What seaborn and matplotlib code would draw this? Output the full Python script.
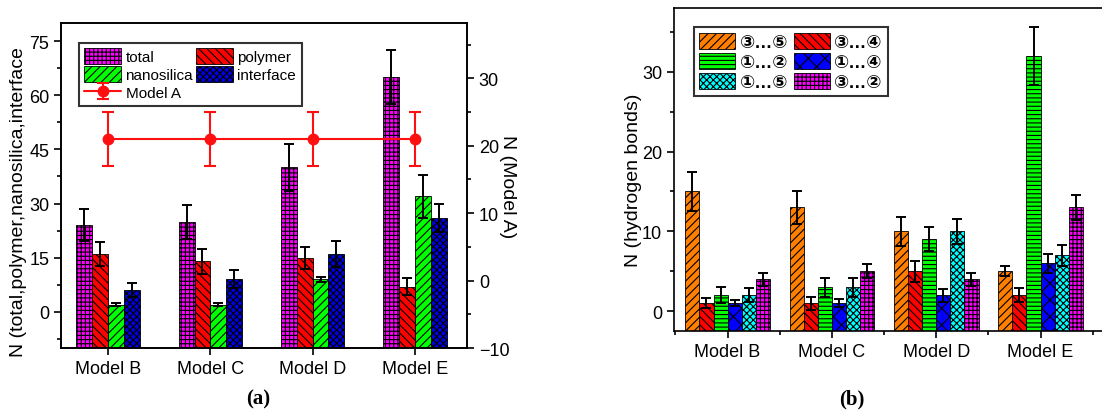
import numpy as np
import pandas as pd
import seaborn as sns
import matplotlib.pyplot as plt
from matplotlib.ticker import MultipleLocator

models = ['Model B', 'Model C', 'Model D', 'Model E']

# (a) number of atoms / groups per region
parts = ['total', 'polymer', 'nanosilica', 'interface']
total = [24, 25, 40, 65]
total_err = [4.5, 4.7, 6.5, 7.5]
polymer = [16, 14, 15, 7]
polymer_err = [3.3, 3.5, 3.0, 2.3]
nanosilica = [2, 2, 9, 32]
nanosilica_err = [0.5, 0.5, 0.7, 6.0]
interface = [6, 9, 16, 26]
interface_err = [2.0, 2.5, 3.5, 4.0]
model_a = [21, 21, 21, 21]
model_a_err = [4, 4, 4, 4]

# (b) hydrogen bonds
bonds = ['③…⑤', '③…④', '①…②', '①…④', '①…⑤', '③…②']
b35 = [15, 13, 10, 5]
b35_err = [2.4, 2.1, 1.8, 0.6]
b34 = [1, 1, 5, 2]
b34_err = [0.6, 0.8, 1.3, 0.9]
b12 = [2, 3, 9, 32]
b12_err = [1.0, 1.2, 1.5, 3.6]
b14 = [1, 1, 2, 6]
b14_err = [0.4, 0.5, 0.8, 1.2]
b15 = [2, 3, 10, 7]
b15_err = [0.9, 1.2, 1.6, 1.3]
b32 = [4, 5, 4, 13]
b32_err = [0.8, 0.9, 0.8, 1.6]

sns.set_style('ticks')
plt.rcParams['font.family'] = ['Liberation Sans', 'DejaVu Sans', 'Noto Sans CJK SC']
plt.rcParams['hatch.linewidth'] = 0.8
plt.rcParams['axes.linewidth'] = 1.2
plt.rcParams['axes.edgecolor'] = 'black'
for key in ['text.color', 'axes.labelcolor', 'xtick.color', 'ytick.color']:
    plt.rcParams[key] = 'black'


def long_form(names, series):
    rows = []
    for name, vals in zip(names, series):
        for m, v in zip(models, vals):
            rows.append({'model': m, 'group': name, 'n': v})
    return pd.DataFrame(rows)


def draw_bars(ax, df, names, colors, hatches, errs, width, ylo):
    sns.barplot(data=df, x='model', y='n', hue='group', hue_order=names,
                palette=colors, saturation=1, width=width, gap=0,
                edgecolor='black', linewidth=0.6, errorbar=None,
                legend=False, ax=ax)
    for cont, h, e in zip(ax.containers, hatches, errs):
        xs = [b.get_x() + b.get_width() / 2 for b in cont]
        ys = [b.get_height() for b in cont]
        ax.errorbar(xs, ys, yerr=e, fmt='none', ecolor='black',
                    elinewidth=1.4, capsize=3.5, capthick=1.4, zorder=3)
        for b in cont:
            b.set_hatch(h)
            # bars run down to the bottom of the frame like in the original
            hgt = b.get_height()
            b.set_y(ylo)
            b.set_height(hgt - ylo)


fig = plt.figure(figsize=(11.02, 4.14), dpi=100)

# ---------- (a) ----------
ax1 = fig.add_axes([0.0554, 0.157, 0.3684, 0.785])
df_a = long_form(parts, [total, polymer, nanosilica, interface])
colors_a = ['#ff00ff', '#ff0000', '#00ff00', '#0000e0']
hatch_a = ['++++', '\\\\\\\\', '////', 'xxxxx']
draw_bars(ax1, df_a, parts, colors_a, hatch_a,
          [total_err, polymer_err, nanosilica_err, interface_err], 0.62, -10)
ax1.set_ylim(-10, 80)
ax1.set_xlim(-0.46, 3.51)
ax1.set_yticks([0, 15, 30, 45, 60, 75])
ax1.yaxis.set_minor_locator(MultipleLocator(7.5))
ax1.set_xlabel('')
ax1.set_ylabel('N (total,polymer,nanosilica,interface', fontsize=14)
ax1.yaxis.set_label_coords(-0.084, 0.452)
ax1.tick_params(axis='both', which='major', direction='out', length=5,
                width=1.2, labelsize=13)
ax1.tick_params(axis='y', which='minor', direction='out', length=3, width=1.2)

ax1b = ax1.twinx()
x_pos = np.arange(len(models))
line_a = ax1b.errorbar(x_pos, model_a, yerr=model_a_err, color='#ff1010',
                       marker='o', markersize=7.5, linewidth=1.5,
                       elinewidth=1.5, capsize=4, capthick=1.5)
ax1b.set_ylim(-10, 38.2)
ax1b.set_yticks([-10, 0, 10, 20, 30])
ax1b.yaxis.set_minor_locator(MultipleLocator(5))
ax1b.set_ylabel('N (Model A)', fontsize=14, rotation=270, labelpad=5)
ax1b.tick_params(axis='y', which='major', direction='out', length=5,
                 width=1.2, labelsize=13)
ax1b.tick_params(axis='y', which='minor', direction='out', length=3, width=1.2)

c = ax1.containers
leg_a = ax1.legend([c[0], c[2], line_a, c[1], c[3]],
                   ['total', 'nanosilica', 'Model A', 'polymer', 'interface'],
                   ncol=2, loc='upper left', bbox_to_anchor=(0.044, 0.94),
                   borderaxespad=0, fontsize=11, frameon=True, fancybox=False,
                   handlelength=2.4, handleheight=1.2, handletextpad=0.3,
                   columnspacing=0.2, labelspacing=0.15, borderpad=0.35)
leg_a.get_frame().set_edgecolor('black')
leg_a.get_frame().set_linewidth(1.5)

# ---------- (b) ----------
ax2 = fig.add_axes([0.6116, 0.198, 0.4084, 0.78])
df_b = long_form(bonds, [b35, b34, b12, b14, b15, b32])
colors_b = ['#ff8000', '#ff0000', '#00ff00', '#0000ff', '#00ffff', '#ff00ff']
hatch_b = ['////', '\\\\\\\\', '----', 'xx', 'xxxxx', '++++']
draw_bars(ax2, df_b, bonds, colors_b, hatch_b,
          [b35_err, b34_err, b12_err, b14_err, b15_err, b32_err], 0.81, -2.5)
ax2.set_ylim(-2.5, 38)
ax2.set_xlim(-0.514, 3.8)
ax2.set_yticks([0, 10, 20, 30])
ax2.yaxis.set_minor_locator(MultipleLocator(5))
ax2.xaxis.set_minor_locator(MultipleLocator(0.5))
ax2.set_xlabel('')
ax2.set_ylabel('N (hydrogen bonds)', fontsize=14)
ax2.yaxis.set_label_coords(-0.072, 0.47)
ax2.tick_params(axis='both', which='major', direction='out', length=5,
                width=1.2, labelsize=13)
ax2.tick_params(axis='both', which='minor', direction='out', length=3, width=1.2)

c = ax2.containers
leg_b = ax2.legend([c[0], c[2], c[4], c[1], c[3], c[5]],
                   [bonds[0], bonds[2], bonds[4], bonds[1], bonds[3], bonds[5]],
                   ncol=2, loc='upper left', bbox_to_anchor=(0.044, 0.941),
                   borderaxespad=0, prop={'size': 13, 'weight': 'bold'},
                   frameon=True, fancybox=False, handlelength=2.0,
                   handleheight=1.0, handletextpad=0.25, columnspacing=0.3,
                   labelspacing=0.1, borderpad=0.3)
leg_b.get_frame().set_edgecolor('black')
leg_b.get_frame().set_linewidth(1.5)

fig.text(0.234, 0.034, '(a)', ha='center', va='center', fontsize=15,
         fontweight='bold', family='Liberation Serif')
fig.text(0.773, 0.034, '(b)', ha='center', va='center', fontsize=15,
         fontweight='bold', family='Liberation Serif')

fig.savefig('out.png', dpi=100)
